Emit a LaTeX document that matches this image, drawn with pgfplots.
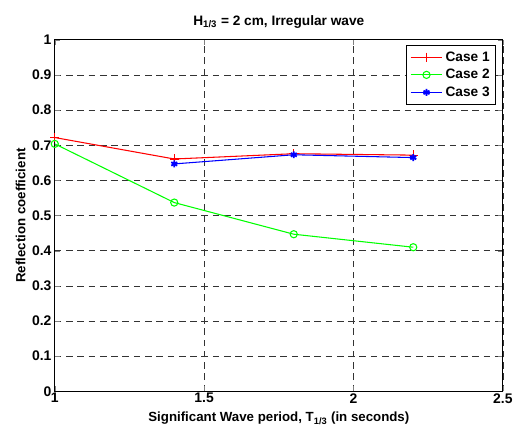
\documentclass[border=0pt]{standalone}
\usepackage{fontspec}
\setmainfont{Liberation Sans}
\usepackage{pgfplots}
\pgfplotsset{compat=1.18}
\begin{document}
\begin{tikzpicture}
\begin{axis}[
  name=ax,
  width=337.5pt,height=264.75pt,scale only axis,
  xmin=1,xmax=2.5,ymin=0,ymax=1,
  xtick={1,1.5,2,2.5},ytick={0,0.1,...,1},
  yticklabels={0,0.1,0.2,0.3,0.4,0.5,0.6,0.7,0.8,0.9,1},
  xticklabels={1,1.5,2,2.5},
  tick align=inside,major tick length=4pt,
  grid=major,grid style={black!80,dash pattern=on 5pt off 3.5pt,line width=0.5pt},
  axis line style={line width=0.9pt},
  tick label style={font=\fontsize{10.5}{12}\selectfont\bfseries},
  yticklabel style={xshift=1pt},
  xticklabel style={yshift=2pt},
  label style={font=\fontsize{10}{12}\selectfont\bfseries},
  title style={font=\fontsize{10.3}{12}\selectfont\bfseries,yshift=-1pt},
  title={H\textsubscript{1/3} = 2 cm, Irregular wave},
  xlabel={Significant Wave period, T\textsubscript{1/3} (in seconds)},
  ylabel={Reflection coefficient},
  xlabel style={yshift=0pt},ylabel style={yshift=-2pt},
  legend style={at={(0.985,0.985)},anchor=north east,font=\fontsize{10.3}{12}\selectfont\bfseries,
    draw=black,line width=0.8pt,row sep=0.5pt,inner sep=2.5pt},
  legend image code/.code={\draw[mark repeat=2,mark phase=2] plot coordinates {(0cm,0cm) (0.42cm,0cm) (0.84cm,0cm)};},
  legend cell align=left,
]
\addplot[red,mark=+,mark size=3.5pt,line width=0.8pt] coordinates {(1,0.722) (1.4,0.661) (1.8,0.676) (2.2,0.672)};
\addplot[green,mark=o,mark size=2.7pt,line width=0.8pt] coordinates {(1,0.704) (1.4,0.537) (1.8,0.447) (2.2,0.410)};
\addplot[blue,mark=asterisk,mark size=2.6pt,line width=0.8pt,mark options={line width=1.4pt}] coordinates {(1.4,0.647) (1.8,0.673) (2.2,0.665)};
\legend{Case 1,Case 2,Case 3}
\end{axis}
\path (ax.south west) ++(-41.25pt,-27.75pt);
\path (ax.north east) ++(9pt,30pt);
\end{tikzpicture}
\end{document}
